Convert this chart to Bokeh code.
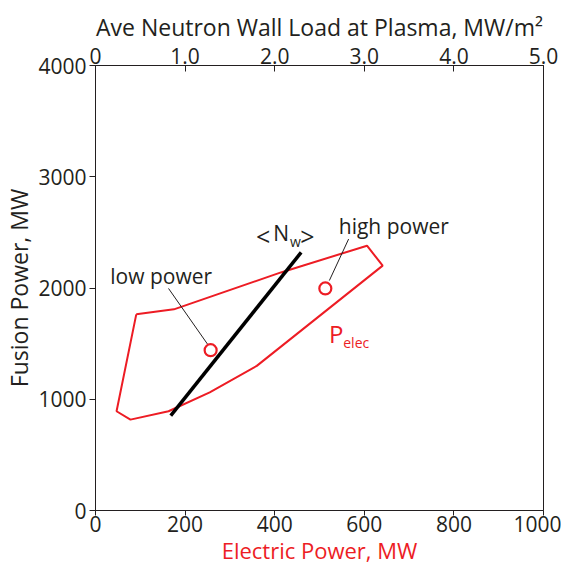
from bokeh.plotting import figure
from bokeh.models import Range1d, LinearAxis, FixedTicker
from bokeh.embed import file_html
from bokeh.resources import INLINE
from bokeh.core.properties import value

# ---- data ----
pelec_x = [91, 175, 414, 606, 641, 360, 255, 163, 78, 47, 91]
pelec_y = [1763, 1808, 2140, 2380, 2201, 1300, 1062, 892, 817, 892, 1763]
nw_x = [168, 459]
nw_y = [853, 2320]
marker_x = [257, 513]
marker_y = [1441, 1996]
marker_names = ["low power", "high power"]
x_ticks = [0, 200, 400, 600, 800, 1000]
y_ticks = [0, 1000, 2000, 3000, 4000]
top_ticks = [0, 1, 2, 3, 4, 5]
top_labels = ["0", "1.0", "2.0", "3.0", "4.0", "5.0"]

RED = "#ed1c24"
DARK = "#231f20"
FONT = "Open Sans"

p = figure(width=561, height=567, output_backend="svg", toolbar_location=None,
           x_range=Range1d(0, 1000), y_range=Range1d(0, 4000),
           min_border_left=94, min_border_right=18, min_border_top=65, min_border_bottom=55)
p.extra_x_ranges = {"nw": Range1d(0, 5)}
p.grid.visible = False
p.outline_line_color = DARK
p.outline_line_width = 1
p.background_fill_color = "white"
p.border_fill_color = "white"

def style(ax):
    ax.axis_line_color = DARK
    ax.major_tick_line_color = DARK
    ax.minor_tick_line_color = None
    ax.major_label_text_font = FONT
    ax.major_label_text_font_size = "21px"
    ax.major_label_text_color = DARK
    ax.axis_label_text_font = FONT
    ax.axis_label_text_font_style = "normal"
    ax.axis_label_text_font_size = "23px"
    ax.axis_label_text_color = DARK

xa = p.xaxis[0]
style(xa)
xa.ticker = FixedTicker(ticks=x_ticks)
xa.axis_label = "Electric Power, MW"
xa.axis_label_text_color = RED
xa.axis_label_text_font_size = "22px"
xa.major_tick_out = 5
xa.major_tick_in = 0
xa.major_label_standoff = 0
xa.axis_label_standoff = 0

ya = p.yaxis[0]
style(ya)
ya.ticker = FixedTicker(ticks=y_ticks)
ya.axis_label = "Fusion Power, MW"
ya.axis_label_text_font_size = "23px"
ya.major_tick_out = 6
ya.major_tick_in = 0
ya.major_label_standoff = 3
ya.axis_label_standoff = 0

ta = LinearAxis(x_range_name="nw", ticker=FixedTicker(ticks=top_ticks),
                axis_label="Ave Neutron Wall Load at Plasma, MW/m²")
style(ta)
ta.major_label_overrides = {t: l for t, l in zip(top_ticks, top_labels)}
ta.major_tick_in = 6
ta.major_tick_out = 0
ta.major_label_standoff = 2
ta.axis_label_standoff = 2
p.add_layout(ta, "above")

# polygon
p.line(pelec_x, pelec_y, line_color=RED, line_width=2)
# neutron wall load line
p.line(nw_x, nw_y, line_color="black", line_width=3.5)

# leader lines
p.segment(x0=[163, 565], y0=[1996, 2440], x1=[251, 522], y1=[1490, 2067],
          line_color=DARK, line_width=1)

# markers
p.scatter(marker_x, marker_y, marker="circle", size=12, fill_color=None,
          line_color=RED, line_width=2.2)

def txt(x, y, s, size, color=DARK):
    p.text(x=[x], y=[y], text=[s], text_font=value(FONT), text_font_size=size,
           text_color=color, text_baseline="alphabetic", text_align="left")

txt(33, 2112, "low power", "21px")
txt(543, 2559, "high power", "21px")
txt(358, 2470, "<", "25px")
txt(397, 2497, "N", "21px")
txt(434, 2416, "w", "14px")
txt(457, 2470, ">", "25px")
txt(521, 1593, "P", "24px", RED)
txt(553, 1512, "elec", "14px", RED)

open("out.html", "w").write(file_html(p, INLINE))
